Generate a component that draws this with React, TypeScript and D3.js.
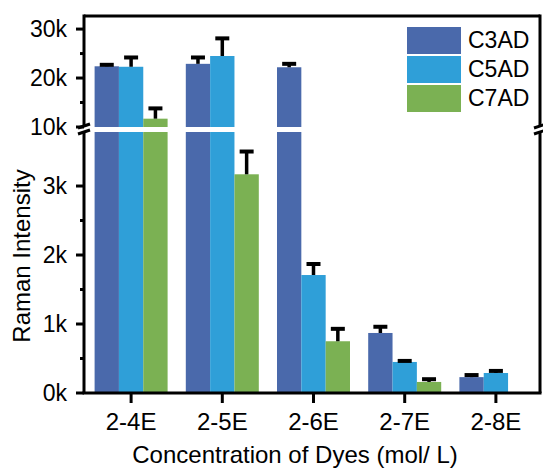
import React from "react";
import * as d3 from "d3";

const categories = ["2-4E", "2-5E", "2-6E", "2-7E", "2-8E"];
const seriesNames = ["C3AD", "C5AD", "C7AD"];
const c3adValues = [22400, 22900, 22200, 870, 230];
const c3adErrors = [300, 1300, 700, 90, 30];
const c5adValues = [22300, 24500, 1710, 450, 290];
const c5adErrors = [1900, 3600, 160, 15, 30];
const c7adValues = [11700, 3170, 750, 160, 0];
const c7adErrors = [2100, 330, 180, 40, 0];
const lowTicks = [0, 1000, 2000, 3000];
const lowMinor = [500, 1500, 2500];
const highTicks = [10000, 20000, 30000];
const highMinor = [15000, 25000];
const colors = ["#4a69ab", "#2f9fd8", "#7bb153"];

const W = 543, H = 468;
const left = 84, right = 540, top = 16, bottom = 393;
const breakLow = 132, breakHigh = 127;
const shift = 1.5;

export default function App() {
  const x = d3.scaleBand<string>().domain(categories).range([left + shift, right + shift]).paddingInner(0).paddingOuter(0);
  const inner = d3.scaleBand<string>().domain(seriesNames).range([0, 73]);
  const yLow = d3.scaleLinear().domain([0, 3783]).range([bottom, breakLow]);
  const yHigh = d3.scaleLinear().domain([10000, 32670]).range([breakHigh, top]);
  const y = (v: number) => (v <= 3783 ? yLow(v) : v >= 10000 ? yHigh(v) : breakLow);
  const values = [c3adValues, c5adValues, c7adValues];
  const errors = [c3adErrors, c5adErrors, c7adErrors];
  const font = "Liberation Sans, Arial, sans-serif";
  const bw = x.bandwidth();

  return (
    <svg width={W} height={H} style={{ position: "absolute", left: 0, top: 0, background: "#fff" }} fontFamily={font}>
      {values.map((vals, si) =>
        vals.map((v, ci) => {
          if (v <= 0) return null;
          const x0 = (x(categories[ci]) as number) + (bw - 73) / 2 + (inner(seriesNames[si]) as number);
          return (
            <rect key={`b${si}-${ci}`} x={x0} y={y(v)} width={inner.bandwidth()} height={bottom - y(v)} fill={colors[si]} />
          );
        })
      )}
      {/* break gap */}
      <rect x={left - 2} y={breakHigh} width={right - left + 4} height={breakLow - breakHigh} fill="#fff" />
      {values.map((vals, si) =>
        vals.map((v, ci) => {
          const e = errors[si][ci];
          if (v <= 0 || e <= 0) return null;
          const cx = (x(categories[ci]) as number) + (bw - 73) / 2 + (inner(seriesNames[si]) as number) + inner.bandwidth() / 2;
          const yt = y(v + e);
          return (
            <g key={`e${si}-${ci}`} stroke="#000">
              <line x1={cx} x2={cx} y1={y(v)} y2={yt} strokeWidth={3.5} />
              <line x1={cx - 7} x2={cx + 7} y1={yt} y2={yt} strokeWidth={4} />
            </g>
          );
        })
      )}
      {/* frame */}
      <g stroke="#000" strokeWidth={3} fill="none">
        <line x1={left} x2={right} y1={top} y2={top} />
        <line x1={left - 1.5} x2={right + 1.5} y1={bottom} y2={bottom} />
        <line x1={left} x2={left} y1={top - 1.5} y2={breakHigh} />
        <line x1={left} x2={left} y1={breakLow} y2={bottom} />
        <line x1={right} x2={right} y1={top - 1.5} y2={breakHigh} />
        <line x1={right} x2={right} y1={breakLow} y2={bottom} />
        {[left, right].map((bx) => (
          <g key={`brk${bx}`}>
            <line x1={bx - 6} x2={bx + 6} y1={breakHigh + 1} y2={breakHigh - 3} />
            <line x1={bx - 6} x2={bx + 6} y1={breakLow + 2} y2={breakLow - 2} />
          </g>
        ))}
      </g>
      {/* y ticks */}
      {lowTicks.map((t) => (
        <g key={`lt${t}`}>
          <line x1={left - 8} x2={left} y1={yLow(t)} y2={yLow(t)} stroke="#000" strokeWidth={3} />
          <text x={67} y={yLow(t)} dy="0.35em" textAnchor="end" fontSize={23}>{`${t / 1000}k`}</text>
        </g>
      ))}
      {highTicks.map((t) => (
        <g key={`ht${t}`}>
          <line x1={left - 8} x2={left} y1={yHigh(t)} y2={yHigh(t)} stroke="#000" strokeWidth={3} />
          <text x={67} y={yHigh(t)} dy="0.35em" textAnchor="end" fontSize={23}>{`${t / 1000}k`}</text>
        </g>
      ))}
      {lowMinor.map((t) => (
        <line key={`lm${t}`} x1={left - 4} x2={left} y1={yLow(t)} y2={yLow(t)} stroke="#000" strokeWidth={3} />
      ))}
      {highMinor.map((t) => (
        <line key={`hm${t}`} x1={left - 4} x2={left} y1={yHigh(t)} y2={yHigh(t)} stroke="#000" strokeWidth={3} />
      ))}
      {/* x ticks */}
      {categories.map((c) => {
        const cx = (x(c) as number) + bw / 2;
        return (
          <g key={`xt${c}`}>
            <line x1={cx} x2={cx} y1={bottom} y2={bottom + 10} stroke="#000" strokeWidth={3} />
            <text x={cx} y={430} textAnchor="middle" fontSize={24}>{c}</text>
          </g>
        );
      })}
      <text x={295} y={463} textAnchor="middle" fontSize={24}>Concentration of Dyes (mol/ L)</text>
      <text transform={`translate(30, 256) rotate(-90)`} textAnchor="middle" fontSize={24}>Raman Intensity</text>
      {/* legend */}
      {seriesNames.map((s, i) => (
        <g key={`lg${s}`}>
          <rect x={407} y={27 + i * 29} width={54} height={27} fill={colors[i]} />
          <text x={468} y={48 + i * 29} fontSize={23}>{s}</text>
        </g>
      ))}
    </svg>
  );
}
